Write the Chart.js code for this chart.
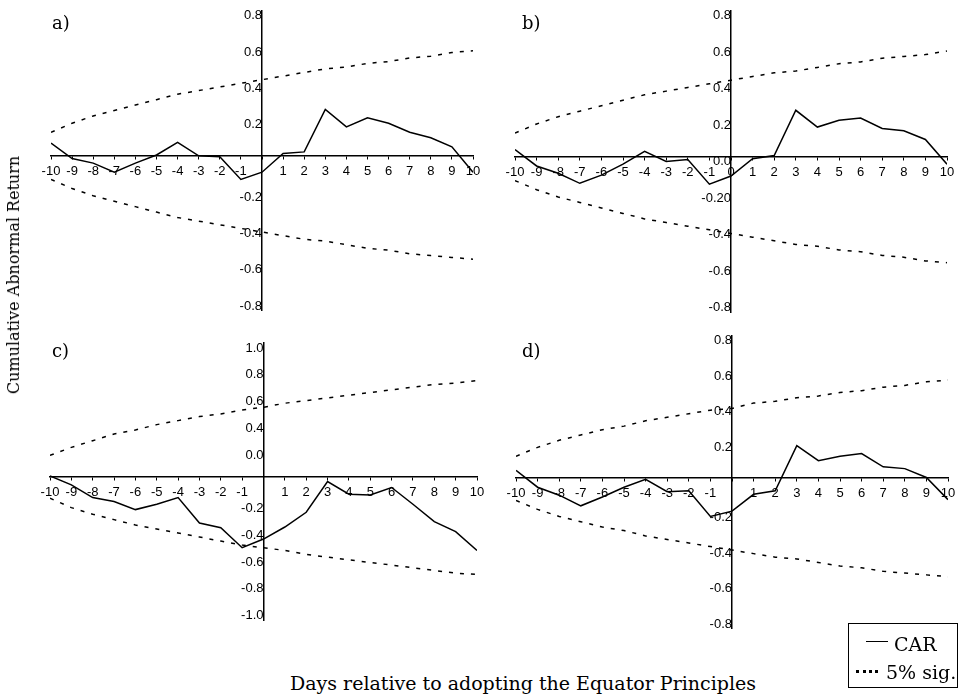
<!DOCTYPE html>
<html>
<head>
<meta charset="utf-8">
<script src="https://cdn.jsdelivr.net/npm/chart.js@4.4.0/dist/chart.umd.min.js"></script>
<style>
  body { margin: 0; background: #fff; width: 965px; height: 696px; position: relative; overflow: hidden; }
  canvas { position: absolute; }
  .txt { position: absolute; font-family: "DejaVu Serif", serif; color: #000; white-space: nowrap; line-height: 1; }
  #legend { position: absolute; left: 848px; top: 623px; width: 108px; height: 63px; border: 1.5px solid #000; }
  #legend .row { position: absolute; font-family: "DejaVu Serif", serif; font-size: 19px; line-height: 1; white-space: nowrap; color: #000; }
  #legend .sample { position: absolute; width: 22px; }
</style>
</head>
<body>
<canvas id="chartA" style="left:20px;top:0px" width="470" height="325"></canvas>
<canvas id="chartB" style="left:490px;top:0px" width="475" height="325"></canvas>
<canvas id="chartC" style="left:20px;top:325px" width="470" height="325"></canvas>
<canvas id="chartD" style="left:490px;top:325px" width="475" height="325"></canvas>

<div class="txt" style="left:52px;top:14px;font-size:18px">a)</div>
<div class="txt" style="left:522px;top:14px;font-size:18px">b)</div>
<div class="txt" style="left:52px;top:342px;font-size:18px">c)</div>
<div class="txt" style="left:522px;top:342px;font-size:18px">d)</div>

<div class="txt" style="left:14px;top:275px;font-size:16px;transform:translate(-50%,-50%) rotate(-90deg)">Cumulative Abnormal Return</div>
<div class="txt" style="left:523px;top:683px;font-size:19px;transform:translate(-50%,-50%)">Days relative to adopting the Equator Principles</div>

<div id="legend">
  <div class="sample" style="left:17px;top:17px;border-top:1.5px solid #000"></div>
  <div class="row" style="left:45px;top:11px">CAR</div>
  <div class="sample" style="left:7px;top:46px;border-top:3px dotted #000"></div>
  <div class="row" style="left:37px;top:39px">5% sig.</div>
</div>

<script>
// event window
const days = [-10, -9, -8, -7, -6, -5, -4, -3, -2, -1, 0, 1, 2, 3, 4, 5, 6, 7, 8, 9, 10];

// x tick labels (panel b shows the 0, the others leave it out)
const xLabels = ["-10", "-9", "-8", "-7", "-6", "-5", "-4", "-3", "-2", "-1", "", "1", "2", "3", "4", "5", "6", "7", "8", "9", "10"];
const xLabelsB = ["-10", "-9", "-8", "-7", "-6", "-5", "-4", "-3", "-2", "-1", "0", "1", "2", "3", "4", "5", "6", "7", "8", "9", "10"];

// y ticks and their labels, as printed in each panel
const yTicks8 = [0.8, 0.6, 0.4, 0.2, 0, -0.2, -0.4, -0.6, -0.8];
const yLabelsA = ["0.8", "0.6", "0.4", "0.2", "", "-0.2", "-0.4", "-0.6", "-0.8"];
const yLabelsB = ["0.8", "0.6", "0.4", "0.2", "0.0", "-0.20", "-0.4", "-0.6", "-0.8"];
const yLabelsD = ["0.8", "0.6", "0.4", "0.2", "", "-0.2", "-0.4", "-0.6", "-0.8"];
const yTicks10 = [1, 0.8, 0.6, 0.4, 0.2, 0, -0.2, -0.4, -0.6, -0.8, -1];
const yLabelsC = ["1.0", "0.8", "0.6", "0.4", "0.0", "", "-0.2", "-0.4", "-0.6", "-0.8", "-1.0"];

// a)
const carA = [0.07, -0.015, -0.04, -0.09, -0.04, 0.005, 0.075, 0.0, -0.005, -0.13, -0.09, 0.013, 0.022, 0.256, 0.16, 0.21, 0.18, 0.13, 0.10, 0.05, -0.09];
const upperA = [0.13, 0.18, 0.22, 0.25, 0.28, 0.31, 0.34, 0.36, 0.38, 0.40, 0.42, 0.44, 0.46, 0.48, 0.49, 0.51, 0.52, 0.54, 0.55, 0.57, 0.58];
const lowerA = [-0.13, -0.18, -0.22, -0.25, -0.28, -0.31, -0.34, -0.36, -0.38, -0.40, -0.42, -0.44, -0.46, -0.47, -0.49, -0.51, -0.52, -0.54, -0.55, -0.56, -0.57];

// b)
const carB = [0.04, -0.05, -0.09, -0.145, -0.10, -0.04, 0.03, -0.025, -0.015, -0.15, -0.105, -0.01, 0.007, 0.255, 0.163, 0.20, 0.213, 0.155, 0.143, 0.095, -0.04];
const upperB = [0.13, 0.18, 0.22, 0.25, 0.28, 0.31, 0.34, 0.36, 0.38, 0.40, 0.42, 0.44, 0.46, 0.47, 0.49, 0.51, 0.52, 0.54, 0.55, 0.56, 0.58];
const lowerB = [-0.13, -0.18, -0.22, -0.25, -0.28, -0.31, -0.34, -0.36, -0.38, -0.40, -0.42, -0.44, -0.46, -0.48, -0.49, -0.51, -0.52, -0.54, -0.55, -0.57, -0.58];

// c)
const carC = [0.007, -0.06, -0.155, -0.185, -0.245, -0.205, -0.155, -0.345, -0.38, -0.53, -0.465, -0.375, -0.265, -0.035, -0.13, -0.135, -0.08, -0.205, -0.335, -0.41, -0.55];
const upperC = [0.16, 0.22, 0.27, 0.32, 0.35, 0.39, 0.42, 0.45, 0.47, 0.50, 0.52, 0.55, 0.57, 0.59, 0.61, 0.63, 0.65, 0.67, 0.69, 0.70, 0.72];
const lowerC = [-0.16, -0.23, -0.28, -0.32, -0.36, -0.39, -0.42, -0.45, -0.48, -0.51, -0.53, -0.55, -0.58, -0.60, -0.62, -0.64, -0.66, -0.68, -0.70, -0.72, -0.73];

// d)
const carD = [0.04, -0.055, -0.10, -0.16, -0.11, -0.055, -0.01, -0.08, -0.075, -0.22, -0.19, -0.095, -0.075, 0.18, 0.095, 0.12, 0.135, 0.06, 0.05, 0.0, -0.125];
const upperD = [0.12, 0.17, 0.21, 0.24, 0.27, 0.29, 0.32, 0.34, 0.36, 0.38, 0.39, 0.42, 0.43, 0.45, 0.46, 0.48, 0.49, 0.51, 0.52, 0.54, 0.55];
const lowerD = [-0.13, -0.18, -0.22, -0.25, -0.28, -0.30, -0.33, -0.35, -0.37, -0.39, -0.41, -0.43, -0.45, -0.46, -0.48, -0.50, -0.51, -0.53, -0.54, -0.55, -0.56];

const tickFont = { family: "'Liberation Sans', Arial, sans-serif", size: 13 };

function makePanel(id, car, upper, lower, xLab, yTicks, yLab, yMin, yMax, padding) {
  const ctx = document.getElementById(id).getContext("2d");
  return new Chart(ctx, {
    type: "line",
    data: {
      labels: days,
      datasets: [
        { label: "CAR", data: car, borderColor: "#000", borderWidth: 1.5 },
        { label: "5% sig.", data: upper, borderColor: "#000", borderWidth: 1.5, borderDash: [4, 7] },
        { label: "5% sig. low", data: lower, borderColor: "#000", borderWidth: 1.5, borderDash: [4, 7] },
      ],
    },
    options: {
      responsive: false,
      animation: false,
      layout: { padding: padding },
      plugins: { legend: { display: false }, tooltip: { enabled: false } },
      elements: { point: { radius: 0 }, line: { tension: 0 } },
      scales: {
        x: {
          type: "linear",
          min: -10,
          max: 10,
          position: { y: 0 },
          afterBuildTicks: (axis) => { axis.ticks = days.map((v) => ({ value: v })); },
          ticks: {
            autoSkip: false,
            maxRotation: 0,
            padding: 5,
            color: "#000",
            font: tickFont,
            callback: (v, i) => xLab[i],
          },
          grid: { display: true, drawOnChartArea: false, drawTicks: true, tickLength: 3, color: "#000", lineWidth: 1 },
          border: { display: true, color: "#000", width: 1.5 },
        },
        y: {
          type: "linear",
          min: yMin,
          max: yMax,
          position: { x: 0 },
          afterBuildTicks: (axis) => { axis.ticks = yTicks.map((v) => ({ value: v })); },
          ticks: {
            autoSkip: false,
            labelOffset: 5,
            color: "#000",
            font: tickFont,
            callback: (v, i) => yLab[i],
          },
          grid: { display: true, drawOnChartArea: false, drawTicks: false, color: "#000" },
          border: { display: true, color: "#000", width: 1.5 },
        },
      },
    },
  });
}

makePanel("chartA", carA, upperA, lowerA, xLabels, yTicks8, yLabelsA, -0.85, 0.8,
  { left: 31, right: 17, top: 9, bottom: 15 });
makePanel("chartB", carB, upperB, lowerB, xLabelsB, yTicks8, yLabelsB, -0.85, 0.8,
  { left: 25, right: 18, top: 9, bottom: 13 });
makePanel("chartC", carC, upperC, lowerC, xLabels, yTicks10, yLabelsC, -1.07, 1.0,
  { left: 30, right: 13, top: 18, bottom: 30 });
makePanel("chartD", carD, upperD, lowerD, xLabels, yTicks8, yLabelsD, -0.85, 0.8,
  { left: 26, right: 17, top: 10, bottom: 22 });
</script>
</body>
</html>
